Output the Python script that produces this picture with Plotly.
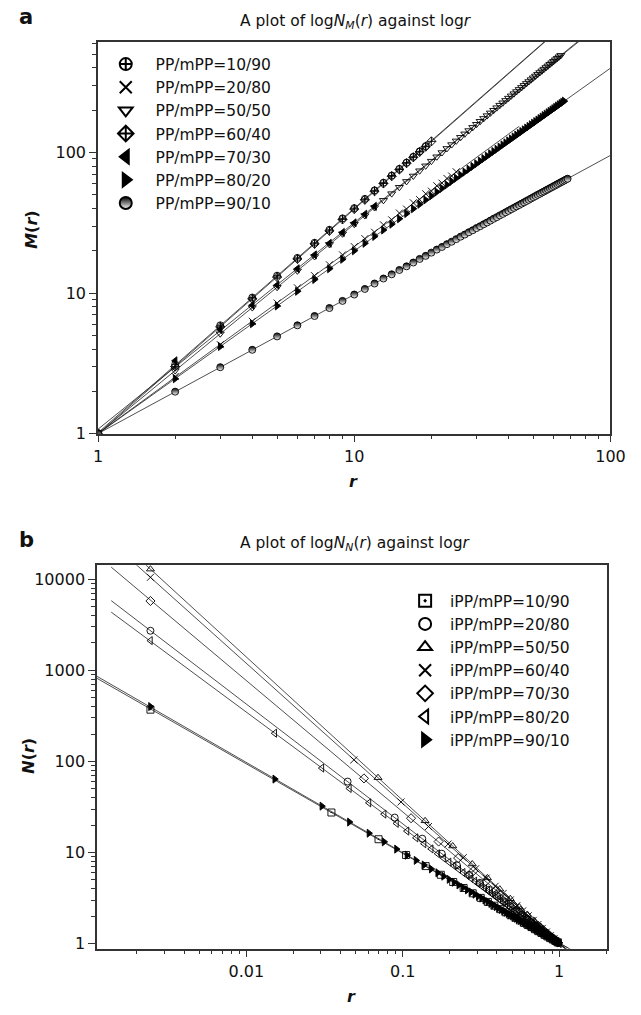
import numpy as np
import plotly.graph_objects as go

FONT = "DejaVu Sans, Liberation Sans, Arial, sans-serif"

# ---------------- Panel a : M(r) against r ----------------
R_A = [1, 2, 3, 4, 5, 6, 7, 8, 9, 10, 11, 12, 13, 14, 15, 16, 17, 18, 19, 20,
       21, 22, 23, 24, 25, 26, 27, 28, 29, 30, 31, 32, 33, 34, 35, 36, 37, 38, 39, 40,
       41, 42, 43, 44, 45, 46, 47, 48, 49, 50, 51, 52, 53, 54, 55, 56, 57, 58, 59, 60,
       61, 62, 63, 64, 65, 66, 67, 68]

M_10_90 = [1.0, 3.1, 5.9, 9.3, 13.3, 17.8, 22.8, 28.2, 34.0, 40.2, 46.8, 53.8, 61.0,
           68.6, 76.5, 84.8, 93.3, 102, 111]
M_20_80 = [1.0, 2.55, 4.3, 6.3, 8.5, 10.9, 13.3, 15.9, 18.7, 21.4, 24.4, 27.1, 30.6,
           33.2, 37.1, 39.6, 43.9, 46.2, 50.9, 53.1, 58.0, 60.6, 65.4, 68.0, 72.9]
M_50_50 = [1.0, 2.81, 5.14, 7.89, 11.0, 14.4, 18.2, 22.2, 26.4, 30.9, 35.6, 40.6, 45.7,
           51.0, 56.6, 62.3, 68.1, 74.2, 80.4, 86.8, 93.3, 100.0, 106.9, 113.9, 121.0,
           128.3, 135.8, 143.3, 151.0, 158.8, 166.8, 174.8, 183.0, 191.4, 199.8, 208.4,
           217.1, 225.9, 234.8, 243.8, 253.0, 262.2, 271.6, 281.1, 290.6, 300.4, 310.1,
           319.9, 329.9, 340.1, 350.3, 360.6, 370.9, 381.4, 392.0, 402.6, 413.4, 424.2,
           435.2, 446.1, 457.2, 468.5, 479.7, 491.1]
M_60_40 = [1.0, 3.0, 5.75, 9.1, 13.0, 17.5, 22.4, 27.7, 33.4, 39.6, 46.1, 53.0, 60.2,
           67.8, 75.7, 83.9, 92.4, 101, 110, 120]
M_70_30 = [1.0, 3.3, 5.5, 8.2, 11.4, 14.9, 18.7, 22.6, 27.0, 31.6, 36.4, 41.4]
M_80_20 = [1.0, 2.46, 4.17, 6.06, 8.10, 10.3, 12.5, 14.9, 17.4, 20.0, 22.6, 25.3, 28.1,
           30.9, 33.8, 36.8, 39.8, 42.8, 46.0, 49.1, 52.4, 55.6, 58.9, 62.3, 65.7, 69.1,
           72.6, 76.1, 79.6, 83.2, 86.9, 90.5, 94.2, 98.0, 101.7, 105.5, 109.3, 113.2,
           117.1, 121.0, 124.9, 128.9, 132.9, 136.9, 141.0, 145.1, 149.2, 153.3, 157.5,
           161.7, 165.9, 170.2, 174.4, 178.7, 183.1, 187.4, 191.8, 196.1, 200.6, 205.0,
           209.4, 213.9, 218.4, 222.9, 227.5, 232.0]
M_90_10 = [1.00, 1.99, 2.97, 3.95, 4.92, 5.90, 6.87, 7.83, 8.80, 9.77, 10.7, 11.7, 12.7,
           13.6, 14.6, 15.5, 16.5, 17.5, 18.4, 19.4, 20.4, 21.3, 22.3, 23.2, 24.2, 25.2,
           26.1, 27.1, 28.0, 29.0, 29.9, 30.9, 31.8, 32.8, 33.8, 34.7, 35.7, 36.6, 37.6,
           38.5, 39.5, 40.4, 41.4, 42.3, 43.3, 44.2, 45.2, 46.1, 47.1, 48.1, 49.0, 50.0,
           50.9, 51.9, 52.8, 53.8, 54.7, 55.7, 56.6, 57.6, 58.5, 59.5, 60.4, 61.4, 62.3,
           63.2, 64.2, 65.1]

NAMES_A = ["PP/mPP=10/90", "PP/mPP=20/80", "PP/mPP=50/50", "PP/mPP=60/40",
           "PP/mPP=70/30", "PP/mPP=80/20", "PP/mPP=90/10"]
SERIES_A = [M_10_90, M_20_80, M_50_50, M_60_40, M_70_30, M_80_20, M_90_10]
LINE_END_A = [100, 44, 100, 100, 100, 100, 100]

# ---------------- Panel b : N(r) against r ----------------
R0 = 0.00244
R_B_FINE = [0.0152, 0.0304, 0.0456, 0.0608, 0.076, 0.0912, 0.1064, 0.1216, 0.1368, 0.152,
            0.1672, 0.1824, 0.1976, 0.2128, 0.228, 0.2432, 0.2584, 0.2736, 0.2888, 0.304,
            0.3192, 0.3344, 0.3496, 0.3648, 0.38, 0.3952, 0.4104, 0.4256, 0.4408, 0.456,
            0.4712, 0.4864, 0.5016, 0.5168, 0.532, 0.5472, 0.5624, 0.5776, 0.5928, 0.608,
            0.6232, 0.6384, 0.6536, 0.6688, 0.684, 0.6992, 0.7144, 0.7296, 0.7448, 0.76,
            0.7752, 0.7904, 0.8056, 0.8208, 0.836, 0.8512, 0.8664, 0.8816, 0.8968, 0.912,
            0.9272, 0.9424, 0.9576, 0.9728, 0.988, 1.0032]
R_B_SQ = [0.035, 0.070, 0.105, 0.140, 0.175, 0.210, 0.245, 0.280, 0.315, 0.350, 0.385,
          0.420, 0.455, 0.490, 0.525, 0.560, 0.595, 0.630, 0.665, 0.700, 0.735, 0.770,
          0.805, 0.840, 0.875, 0.910, 0.945, 0.980]
R_B_CI = [0.0444, 0.0888, 0.1332, 0.1776, 0.222, 0.2664, 0.3108, 0.3552, 0.3996, 0.444,
          0.4884, 0.5328, 0.5772, 0.6216, 0.666, 0.7104, 0.7548, 0.7992, 0.8436, 0.888,
          0.9324, 0.9768]
R_B_TRI = [0.0695, 0.139, 0.2085, 0.278, 0.3475, 0.417, 0.4865, 0.556, 0.6255, 0.695,
           0.7645, 0.834, 0.9035, 0.973]
R_B_X = [0.0487, 0.0974, 0.1461, 0.1948, 0.2435, 0.2922, 0.3409, 0.3896, 0.4383, 0.487,
         0.5357, 0.5844, 0.6331, 0.6818, 0.7305, 0.7792, 0.8279, 0.8766, 0.9253, 0.974]
R_B_DIA = [0.0565, 0.113, 0.1695, 0.226, 0.2825, 0.339, 0.3955, 0.452, 0.5085, 0.565,
           0.6215, 0.678, 0.7345, 0.791, 0.8475, 0.904, 0.9605]

N_10_90 = [370, 27.5, 14.0, 9.4, 7.1, 5.7, 4.75, 4.08, 3.57, 3.18, 2.87, 2.61, 2.39, 2.21,
           2.05, 1.92, 1.80, 1.69, 1.60, 1.52, 1.44, 1.37, 1.31, 1.25, 1.20, 1.15, 1.11,
           1.07, 1.03]
N_20_80 = [2720, 60.1, 24.2, 14.2, 9.71, 7.24, 5.70, 4.65, 3.90, 3.34, 2.91, 2.57, 2.29,
           2.06, 1.87, 1.71, 1.57, 1.45, 1.34, 1.25, 1.17, 1.10, 1.03]
N_50_50 = [12900, 66.3, 22.3, 11.8, 7.49, 5.27, 3.96, 3.11, 2.52, 2.09, 1.77, 1.53, 1.33,
           1.17, 1.04]
N_60_40 = [10500, 104, 35.9, 19.3, 12.4, 8.78, 6.63, 5.23, 4.26, 3.56, 3.02, 2.61, 2.29,
           2.02, 1.80, 1.62, 1.47, 1.34, 1.22, 1.13, 1.04]
N_70_30 = [5770, 65.1, 23.8, 13.2, 8.69, 6.28, 4.82, 3.85, 3.17, 2.67, 2.29, 2.00, 1.76,
           1.57, 1.41, 1.27, 1.16, 1.06]
N_80_20 = [2120, 204, 84.6, 50.5, 35.1, 26.4, 20.9, 17.2, 14.5, 12.5, 10.96, 9.71, 8.69,
           7.85, 7.14, 6.54, 6.03, 5.59, 5.19, 4.85, 4.54, 4.27, 4.03, 3.80, 3.60, 3.42,
           3.25, 3.10, 2.96, 2.83, 2.72, 2.60, 2.50, 2.40, 2.32, 2.23, 2.15, 2.08, 2.01,
           1.95, 1.88, 1.83, 1.77, 1.72, 1.67, 1.62, 1.58, 1.53, 1.50, 1.46, 1.42, 1.38,
           1.35, 1.32, 1.29, 1.26, 1.23, 1.20, 1.18, 1.15, 1.13, 1.10, 1.08, 1.06, 1.04,
           1.02, 1.00]
N_90_10 = [400, 64.0, 32.3, 21.6, 16.3, 13.1, 10.9, 9.35, 8.2, 7.3, 6.6, 6.0, 5.5, 5.08,
           4.72, 4.41, 4.13, 3.89, 3.68, 3.49, 3.31, 3.16, 3.01, 2.88, 2.76, 2.65, 2.55,
           2.46, 2.37, 2.29, 2.21, 2.14, 2.08, 2.02, 1.96, 1.90, 1.85, 1.80, 1.75, 1.71,
           1.67, 1.63, 1.59, 1.55, 1.52, 1.49, 1.45, 1.42, 1.39, 1.37, 1.34, 1.31, 1.29,
           1.26, 1.24, 1.22, 1.20, 1.18, 1.16, 1.14, 1.12, 1.10, 1.08, 1.07, 1.05, 1.03,
           1.02]

NAMES_B = ["iPP/mPP=10/90", "iPP/mPP=20/80", "iPP/mPP=50/50", "iPP/mPP=60/40",
           "iPP/mPP=70/30", "iPP/mPP=80/20", "iPP/mPP=90/10"]
R_SERIES_B = [[R0] + R_B_SQ, [R0] + R_B_CI, [R0] + R_B_TRI, [R0] + R_B_X,
              [R0] + R_B_DIA, [R0] + R_B_FINE, [R0] + R_B_FINE]
N_SERIES_B = [N_10_90, N_20_80, N_50_50, N_60_40, N_70_30, N_80_20, N_90_10]
LINE_START_B = [0.0011, 0.00137, 0.00137, 0.00137, 0.00137, 0.00137, 0.0011]

# ---------------- styles ----------------
SYM_A = ["circle-cross-open", "x-thin-open", "triangle-down-open", "diamond-cross-open",
         "triangle-left", "triangle-right", "circle"]
SYM_B = ["square-open-dot", "circle-open", "triangle-up-open", "x-thin-open",
         "diamond-open", "triangle-left-open", "triangle-right"]
NB = "\u00a0"
MSIZE = 7
MLW = 0.9

fig = go.Figure()


def add_fit(x, y, x0, x1, xa, ya):
    k, b = np.polyfit(np.log10(x), np.log10(y), 1)
    xs = np.array([x0, x1])
    fig.add_trace(go.Scatter(x=xs, y=10 ** (b + k * np.log10(xs)), mode="lines",
                             line=dict(color="#222222", width=0.8), showlegend=False,
                             hoverinfo="skip", xaxis=xa, yaxis=ya))


for i, m in enumerate(SERIES_A):
    add_fit(R_A[:len(m)], m, 1, LINE_END_A[i], "x", "y")
for i, (name, m) in enumerate(zip(NAMES_A, SERIES_A)):
    mk = dict(symbol=SYM_A[i], size=MSIZE, color="black", line=dict(color="black", width=MLW))
    if i == 6:
        mk["gradient"] = dict(type="vertical", color="white")
    fig.add_trace(go.Scatter(x=R_A[:len(m)], y=m, mode="markers", marker=mk,
                             name=NB * 2 + name, legendgroup="a%d" % i, legend="legend",
                             xaxis="x", yaxis="y"))

for i in range(7):
    add_fit(R_SERIES_B[i], N_SERIES_B[i], LINE_START_B[i], 1.6, "x2", "y2")
for i in range(7):
    mk = dict(symbol=SYM_B[i], size=MSIZE, color="black", line=dict(color="black", width=MLW))
    fig.add_trace(go.Scatter(x=R_SERIES_B[i], y=N_SERIES_B[i], mode="markers", marker=mk,
                             name=NB + NAMES_B[i], legendgroup="b%d" % i,
                             legend="legend2", xaxis="x2", yaxis="y2"))

W, H = 641, 1015


def px_x(p):
    return p / W


def px_y(p):
    return 1 - p / H


axis_common = dict(type="log", showgrid=False, zeroline=False, showline=True,
                   linecolor="#333333", linewidth=1.5, mirror=True, ticks="outside",
                   ticklen=7, tickwidth=1.2, tickcolor="#333333",
                   tickfont=dict(family=FONT, size=16, color="#111111"))


def minor(vals):
    return dict(ticks="outside", ticklen=4, tickwidth=1, tickcolor="#333333",
                tickvals=vals, showgrid=False)


dec = [2, 3, 4, 5, 6, 7, 8, 9]
LEG_FONT = dict(family=FONT, size=15.5, color="#111111")
fig.update_layout(
    width=W, height=H, margin=dict(l=0, r=0, t=0, b=0),
    paper_bgcolor="white", plot_bgcolor="white",
    xaxis=dict(axis_common, domain=[px_x(96), px_x(625)], anchor="y", range=[0, 2],
               tickvals=[1, 10, 100], ticktext=["1", "10", "100"],
               minor=minor(dec + [d * 10 for d in dec])),
    yaxis=dict(axis_common, domain=[px_y(438), px_y(42)], anchor="x", range=[0, 2.789],
               tickvals=[1, 10, 100], ticktext=["1", "10", "100"],
               minor=minor(dec + [d * 10 for d in dec] + [200, 300, 400, 500, 600])),
    xaxis2=dict(axis_common, domain=[px_x(95), px_x(621)], anchor="y2",
                range=[-2.954, 0.303], tickvals=[0.01, 0.1, 1],
                ticktext=["0.01", "0.1", "1"],
                minor=minor([d / 1000 for d in dec] + [d / 100 for d in dec]
                            + [d / 10 for d in dec] + [2])),
    yaxis2=dict(axis_common, domain=[px_y(958), px_y(571)], anchor="x2",
                range=[-0.054, 4.152], tickvals=[1, 10, 100, 1000, 10000],
                ticktext=["1", "10", "100", "1000", "10000"],
                minor=minor(dec + [d * 10 for d in dec] + [d * 100 for d in dec]
                            + [d * 1000 for d in dec])),
    legend=dict(x=px_x(104), y=px_y(48), xanchor="left", yanchor="top", font=LEG_FONT,
                bgcolor="rgba(0,0,0,0)", tracegroupgap=0, itemsizing="constant"),
    legend2=dict(x=px_x(413), y=px_y(590), xanchor="left", yanchor="top", font=LEG_FONT,
                 bgcolor="rgba(0,0,0,0)", tracegroupgap=0, itemsizing="constant"),
)

ann = [
    dict(text="<b>a</b>", x=px_x(12), y=px_y(17), size=21, xanchor="left"),
    dict(text="A plot of log<i>N</i><sub><i>M</i></sub>(<i>r</i>) against log<i>r</i>",
         x=px_x(362), y=px_y(22), size=15.5, xanchor="center"),
    dict(text="<b><i>M</i>(<i>r</i>)</b>", x=px_x(28), y=px_y(232), size=16,
         xanchor="center", angle=-90),
    dict(text="<b><i>r</i></b>", x=px_x(360), y=px_y(486), size=16, xanchor="center"),
    dict(text="<b>b</b>", x=px_x(12), y=px_y(545), size=21, xanchor="left"),
    dict(text="A plot of log<i>N</i><sub><i>N</i></sub>(<i>r</i>) against log<i>r</i>",
         x=px_x(362), y=px_y(549), size=15.5, xanchor="center"),
    dict(text="<b><i>N</i>(<i>r</i>)</b>", x=px_x(24), y=px_y(763), size=16,
         xanchor="center", angle=-90),
    dict(text="<b><i>r</i></b>", x=px_x(358), y=px_y(1006), size=16, xanchor="center"),
]
for a in ann:
    fig.add_annotation(text=a["text"], x=a["x"], y=a["y"], xref="paper", yref="paper",
                       xanchor=a["xanchor"], yanchor="middle", showarrow=False,
                       textangle=a.get("angle", 0),
                       font=dict(family=FONT, size=a["size"], color="#111111"))

fig.write_html("out.html")
